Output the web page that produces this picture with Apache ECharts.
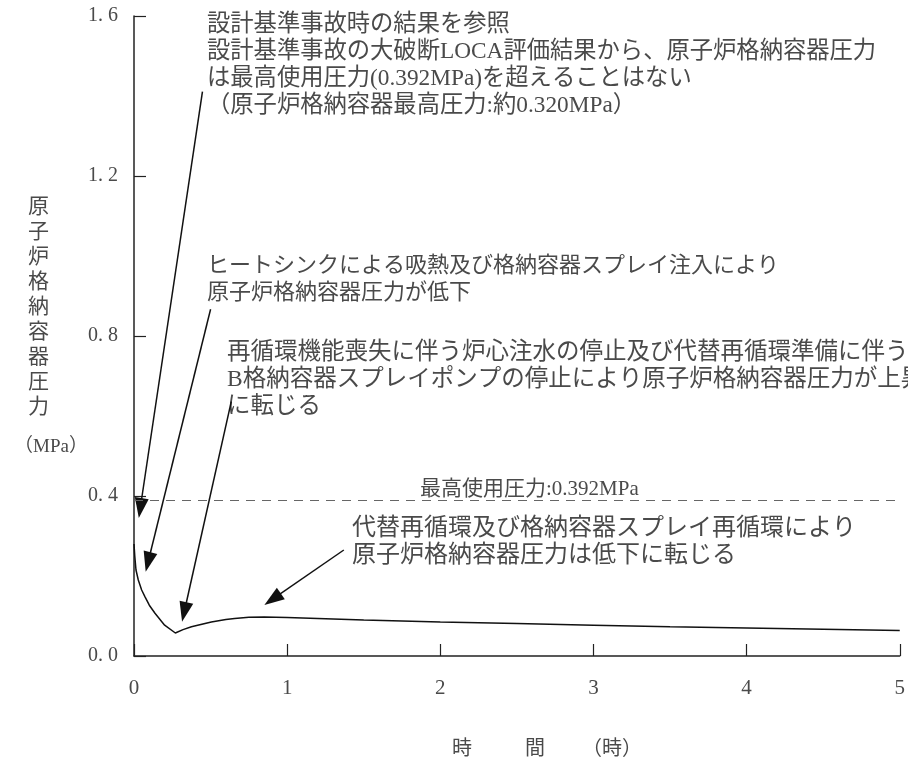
<!DOCTYPE html>
<html>
<head>
<meta charset="utf-8">
<script src="https://cdn.jsdelivr.net/npm/echarts@6/dist/echarts.min.js"></script>
<style>
    html, body {margin: 0; padding: 0; background: #fff;}
    #chart {width: 908px; height: 767px;}
</style>
</head>
<body>
<div id="chart"></div>
<script>
// time (hours) and containment pressure (MPa)
let timeH = [0, 0.005, 0.013, 0.028, 0.05, 0.072, 0.1, 0.137, 0.2, 0.27, 0.32, 0.375, 0.45, 0.505,
    0.6, 0.657, 0.75, 0.85, 1.0, 1.5, 2.0, 2.5, 3.0, 3.5, 4.0, 4.5, 5.0];
let pressure = [0.28, 0.25, 0.215, 0.19, 0.165, 0.148, 0.127, 0.107, 0.077, 0.0575, 0.066, 0.073, 0.080, 0.085,
    0.091, 0.094, 0.097, 0.0975, 0.096, 0.090, 0.085, 0.081, 0.077, 0.073, 0.070, 0.067, 0.064];
let maxPressure = 0.392;
let xTicks = [0, 1, 2, 3, 4, 5];
let yTicks = [0, 0.4, 0.8, 1.2, 1.6];
// annotation arrows: [from, to] in (hours, MPa), "to" is the arrowhead centre
let arrowFrom = [[0.447, 1.411], [0.50, 0.867], [0.635, 0.636], [1.37, 0.265]];
let arrowTo = [[0.041, 0.37], [0.092, 0.235], [0.328, 0.11], [0.905, 0.142]];

let serif = "'Liberation Serif', 'Noto Sans CJK JP', serif";
let textColor = '#4a4a4a';

let seriesData = [];
for (let i in timeH) {
    seriesData.push([timeH[i], pressure[i]]);
}

let arrowLines = [];
for (let i in arrowFrom) {
    arrowLines.push([{coord: arrowFrom[i]}, {coord: arrowTo[i]}]);
}

function makeText(x, y, text, size) {
    return {
        type: 'text',
        left: x,
        top: y,
        style: {
            text: text,
            fill: textColor,
            fontSize: size || 22,
            fontFamily: serif,
            lineHeight: 27
        }
    };
}

let yName = '原\n子\n炉\n格\n納\n容\n器\n圧\n力';

let graphics = [
    makeText(207, 11, '設計基準事故時の結果を参照\n設計基準事故の大破断LOCA評価結果から、原子炉格納容器圧力\nは最高使用圧力(0.392MPa)を超えることはない\n（原子炉格納容器最高圧力:約0.320MPa）', 23.3),
    makeText(207, 253, 'ヒートシンクによる吸熱及び格納容器スプレイ注入により\n原子炉格納容器圧力が低下', 22),
    makeText(227, 339, '再循環機能喪失に伴う炉心注水の停止及び代替再循環準備に伴う\nB格納容器スプレイポンプの停止により原子炉格納容器圧力が上昇\nに転じる', 23.5),
    makeText(352, 515, '代替再循環及び格納容器スプレイ再循環により\n原子炉格納容器圧力は低下に転じる', 24),
    makeText(420, 476, '最高使用圧力:0.392MPa', 21),
    {
        type: 'text', left: 28, top: 195,
        style: {text: yName, fill: textColor, fontSize: 21, fontFamily: serif, lineHeight: 25}
    },
    makeText(14, 434, '（MPa）', 19),
    makeText(452, 736, '時', 20),
    makeText(525, 736, '間', 20),
    makeText(582, 736, '（時）', 20)
];

let myChart = echarts.init(document.getElementById('chart'));
let option = {
    animation: false,
    backgroundColor: '#fff',
    grid: {left: 134, right: 5, top: 16, bottom: 111},
    xAxis: {
        type: 'value',
        min: xTicks[0],
        max: xTicks[xTicks.length - 1],
        interval: 1,
        splitLine: {show: false},
        axisLine: {lineStyle: {color: '#222', width: 1.5}},
        axisTick: {inside: true, length: 12, lineStyle: {color: '#222', width: 1.2}},
        axisLabel: {margin: 22, fontSize: 21, color: textColor, fontFamily: serif}
    },
    yAxis: {
        type: 'value',
        min: yTicks[0],
        max: yTicks[yTicks.length - 1],
        interval: 0.4,
        splitLine: {show: false},
        axisLine: {show: true, lineStyle: {color: '#222', width: 1.5}},
        axisTick: {show: true, inside: true, length: 12, lineStyle: {color: '#222', width: 1.2}},
        axisLabel: {
            margin: 16, fontSize: 20, color: textColor, fontFamily: serif,
            formatter: function (v) { return v.toFixed(1).replace('.', '. '); }
        }
    },
    graphic: graphics,
    series: [
        {
            type: 'line',
            data: seriesData,
            showSymbol: false,
            lineStyle: {color: '#111', width: 1.5},
            markLine: {
                silent: true,
                symbol: ['none', 'triangle'],
                symbolSize: [14, 20],
                label: {show: false},
                lineStyle: {color: '#111', width: 1.5, type: 'solid'},
                data: arrowLines
            }
        },
        {
            type: 'line',
            data: [],
            markLine: {
                silent: true,
                symbol: ['none', 'none'],
                label: {show: false},
                lineStyle: {color: '#666', width: 1, type: [9, 7]},
                data: [{yAxis: maxPressure}]
            }
        }
    ]
};
myChart.setOption(option);
</script>
</body>
</html>
